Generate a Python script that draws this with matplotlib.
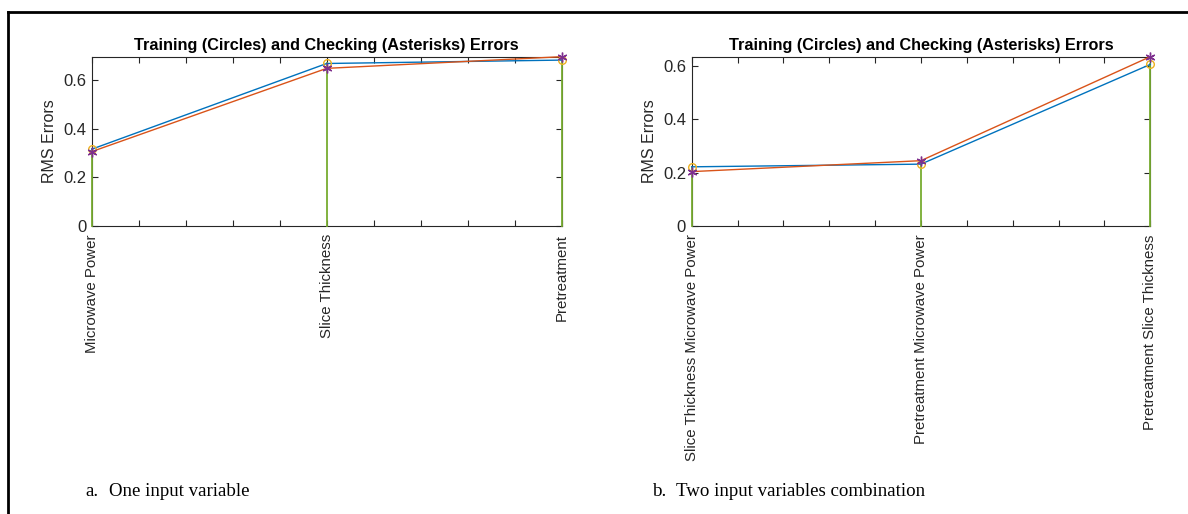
import matplotlib.pyplot as plt
from matplotlib.lines import Line2D
from matplotlib.ticker import MultipleLocator

# RMS errors from the exhaustive input search
labels_a = ["Microwave Power", "Slice Thickness", "Pretreatment"]
trn_a = [0.315, 0.668, 0.682]
chk_a = [0.305, 0.648, 0.696]

labels_b = ["Slice Thickness Microwave Power", "Pretreatment Microwave Power",
            "Pretreatment Slice Thickness"]
trn_b = [0.222, 0.232, 0.606]
chk_b = [0.204, 0.245, 0.635]

captions = ["a.", "b."]
caption_texts = ["One input variable", "Two input variables combination"]

# MATLAB default colour order
c_blue = (0.0, 0.447, 0.741)
c_orange = (0.85, 0.325, 0.098)
c_yellow = (0.929, 0.694, 0.125)
c_purple = (0.494, 0.184, 0.556)
c_green = (0.466, 0.674, 0.188)
c_axis = (0.15, 0.15, 0.15)

plt.rcParams['font.family'] = ['Liberation Sans', 'DejaVu Sans']

fig = plt.figure(figsize=(11.88, 5.14), dpi=100)

positions = [[0.0772, 0.5609, 0.3956, 0.3288],
             [0.5822, 0.5603, 0.3860, 0.3294]]
panels = [(labels_a, trn_a, chk_a), (labels_b, trn_b, chk_b)]

for pos, (labels, trn, chk) in zip(positions, panels):
    ax = fig.add_axes(pos)
    x = list(range(1, len(labels) + 1))

    # green stems up to the training error, drawn over the spines
    for xi, yi in zip(x, trn):
        ax.plot([xi, xi], [0, yi], color=c_green, lw=1.3, zorder=3, clip_on=False)

    ax.plot(x, trn, '-', color=c_blue, lw=1.0, zorder=4, clip_on=False)
    ax.plot(x, chk, '-', color=c_orange, lw=1.0, zorder=4, clip_on=False)
    ax.plot(x, trn, 'o', color=c_yellow, ms=5.5, mfc='none', mew=1.0, zorder=5, clip_on=False)
    # six-armed asterisk like MATLAB's '*'
    ax.plot(x, chk, marker=(6, 2, 0), ls='none', color=c_purple, ms=7, mew=1.0,
            zorder=5, clip_on=False)

    ax.set_xlim(1, len(labels))
    ax.set_ylim(0, max(max(trn), max(chk)))
    ax.set_xticks(x)
    ax.set_xticklabels(labels, rotation=90, va='top', ha='center', fontsize=10.8)
    ax.xaxis.set_minor_locator(MultipleLocator(0.2))
    ax.yaxis.set_major_locator(MultipleLocator(0.2))
    ax.set_yticklabels([f"{v:g}" for v in ax.get_yticks()])
    ax.tick_params(which='both', direction='in', top=True, right=True,
                   length=4, width=0.8, color=c_axis, labelcolor=c_axis)
    ax.tick_params(axis='y', labelsize=12, pad=4)
    ax.tick_params(axis='x', pad=6)
    for s in ax.spines.values():
        s.set_color(c_axis)
        s.set_linewidth(0.8)

    ax.set_ylabel("RMS Errors", fontsize=11.5, color=c_axis, labelpad=4)
    ax.set_title("Training (Circles) and Checking (Asterisks) Errors",
                 fontsize=11.7, fontweight='bold', color='black', pad=5)

# captions below each panel
cap_x = [85 / 1188, 652 / 1188]
for cx, c, t in zip(cap_x, captions, caption_texts):
    fig.text(cx, 1 - 491 / 514, c, family='Liberation Serif', fontsize=13.6, va='center')
    fig.text(cx + 24 / 1188, 1 - 491 / 514, t, family='Liberation Serif',
             fontsize=13.6, va='center')

# outer frame (left and top edges)
fig.add_artist(Line2D([8 / 1188, 8 / 1188], [0, 1 - 12 / 514],
                      transform=fig.transFigure, color='black', lw=2))
fig.add_artist(Line2D([8 / 1188, 1], [1 - 12 / 514, 1 - 12 / 514],
                      transform=fig.transFigure, color='black', lw=2))

fig.savefig("out.png", dpi=100)
